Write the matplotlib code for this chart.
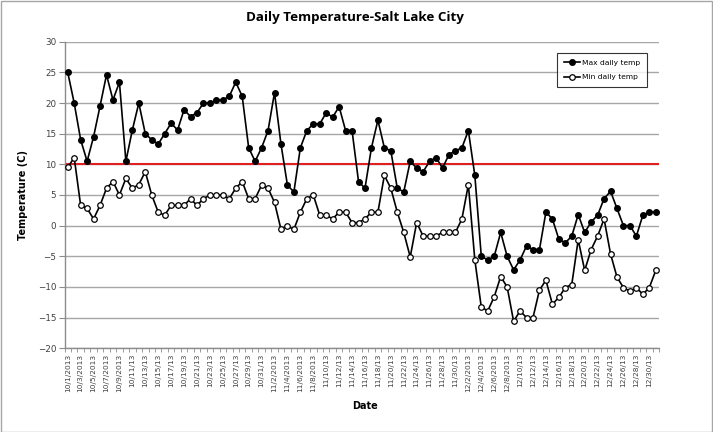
import matplotlib
matplotlib.use("Agg")
import matplotlib.pyplot as plt
from matplotlib.patches import Rectangle

# ---- data ----
max_temp = [25, 20, 14.0, 10.5, 14.5, 19.5, 24.6, 20.5, 23.4, 10.5,
            15.6, 20, 15, 14.0, 13.3, 15, 16.7, 15.6, 18.9, 17.8,
            18.4, 20, 20, 20.5, 20.5, 21.1, 23.4, 21.1, 12.7, 10.5,
            12.7, 15.5, 21.7, 13.3, 6.6, 5.5, 12.7, 15.5, 16.6, 16.6,
            18.4, 17.7, 19.4, 15.5, 15.5, 7.2, 6.1, 12.7, 17.2, 12.7,
            12.2, 6.1, 5.5, 10.5, 9.4, 8.8, 10.5, 11.1, 9.4, 11.6,
            12.2, 12.7, 15.5, 8.2, -5, -5.6, -5, -1.1, -5, -7.2,
            -5.6, -3.3, -3.9, -3.9, 2.2, 1.1, -2.2, -2.8, -1.7, 1.8,
            -1.1, 0.6, 1.7, 4.4, 5.6, 2.8, 0, 0, -1.7, 1.7,
            2.2, 2.2]
min_temp = [9.5, 11.1, 3.3, 2.8, 1.1, 3.3, 6.1, 7.2, 5, 7.7,
            6.1, 6.7, 8.8, 5, 2.2, 1.7, 3.3, 3.3, 3.3, 4.4,
            3.3, 4.4, 5, 5, 5, 4.4, 6.1, 7.2, 4.4, 4.4,
            6.6, 6.1, 3.8, -0.6, -0.1, -0.6, 2.2, 4.4, 5, 1.7,
            1.7, 1.1, 2.2, 2.2, 0.5, 0.5, 1.1, 2.2, 2.2, 8.2,
            6.1, 2.2, -1.1, -5.1, 0.5, -1.7, -1.7, -1.7, -1.1, -1.1,
            -1.1, 1.1, 6.7, -5.6, -13.3, -13.9, -11.6, -8.3, -10, -15.6,
            -13.9, -15, -15, -10.5, -8.9, -12.8, -11.7, -10.1, -9.6, -2.3,
            -7.3, -3.9, -1.7, 1.1, -4.6, -8.4, -10.1, -10.7, -10.1, -11.2,
            -10.1, -7.3]
threshold = 10

months = [(10, 31), (11, 30), (12, 31)]
dates = []
for m, nd in months:
    for d in range(1, nd + 1):
        dates.append(f"{m}/{d}/2013" if d < 10 else f"{m}/{d}/13")
tick_labels = dates[::2]
y_ticks = list(range(-20, 31, 5))

# ---- figure ----
W, H = 713, 432
fig = plt.figure(figsize=(W / 100, H / 100), dpi=100)
fig.patches.append(Rectangle((0.5 / W, 0.5 / H), 1 - 1.5 / W, 1 - 1.5 / H,
                             transform=fig.transFigure, fill=False,
                             edgecolor="#a6a6a6", linewidth=1.0))
AX_L, AX_R, AX_T, AX_B = 64.5, 659, 41.7, 348.3
ax = fig.add_axes([AX_L / W, 1 - AX_B / H, (AX_R - AX_L) / W, (AX_B - AX_T) / H])

x = list(range(len(dates)))
ax.set_xlim(-0.5, len(dates) - 0.5)
ax.set_ylim(-20, 30)
ax.set_yticks(y_ticks)
ax.yaxis.grid(True, color="#a6a6a6", linewidth=1.0)
ax.set_axisbelow(True)

ax.axhline(threshold, color="#e02020", linewidth=1.5, zorder=2)

ax.plot(x, max_temp, color="black", linewidth=1.2, marker="o", markersize=4.0,
        markerfacecolor="black", markeredgecolor="black", label="Max daily temp", zorder=3)
ax.plot(x, min_temp, color="black", linewidth=1.2, marker="o", markersize=4.0,
        markerfacecolor="white", markeredgecolor="black", markeredgewidth=0.9,
        label="Min daily temp", zorder=3)

for s in ["top", "right"]:
    ax.spines[s].set_visible(False)
for s in ["left", "bottom"]:
    ax.spines[s].set_color("#8c8c8c")
    ax.spines[s].set_linewidth(1.0)

ax.set_xticks(x[::2])
ax.set_xticklabels(tick_labels, rotation=90, fontsize=5.4, color="#404040",
                   family="DejaVu Sans")
ax.set_xticks([i - 0.5 for i in range(len(dates) + 1)], minor=True)
ax.tick_params(axis="x", which="major", length=0, pad=4)
ax.tick_params(axis="x", which="minor", length=3, color="#8c8c8c", direction="out")
ax.tick_params(axis="y", length=4, color="#8c8c8c", labelsize=6.3, labelcolor="#404040", pad=2)

ax.set_ylabel("Temperature (C)", fontsize=7, fontweight="bold")
ax.yaxis.set_label_coords(-(AX_L - 28) / (AX_R - AX_L), 0.5)
fig.text(365 / W, 1 - 406 / H, "Date", fontsize=7, fontweight="bold",
         ha="center", va="center")
fig.text(355 / W, 1 - 18 / H, "Daily Temperature-Salt Lake City", fontsize=9.6,
         fontweight="bold", ha="center", va="center", family="Open Sans")

leg = ax.legend(loc="upper left",
                bbox_to_anchor=((557 - AX_L) / (AX_R - AX_L), 1 - (53 - AX_T) / (AX_B - AX_T)),
                fontsize=5.4, frameon=True, fancybox=False, borderaxespad=0,
                handlelength=2.2, handletextpad=0.2, labelspacing=1.1,
                borderpad=0.9)
leg.get_frame().set_edgecolor("black")
leg.get_frame().set_linewidth(0.8)

fig.savefig("out.png", dpi=100)
